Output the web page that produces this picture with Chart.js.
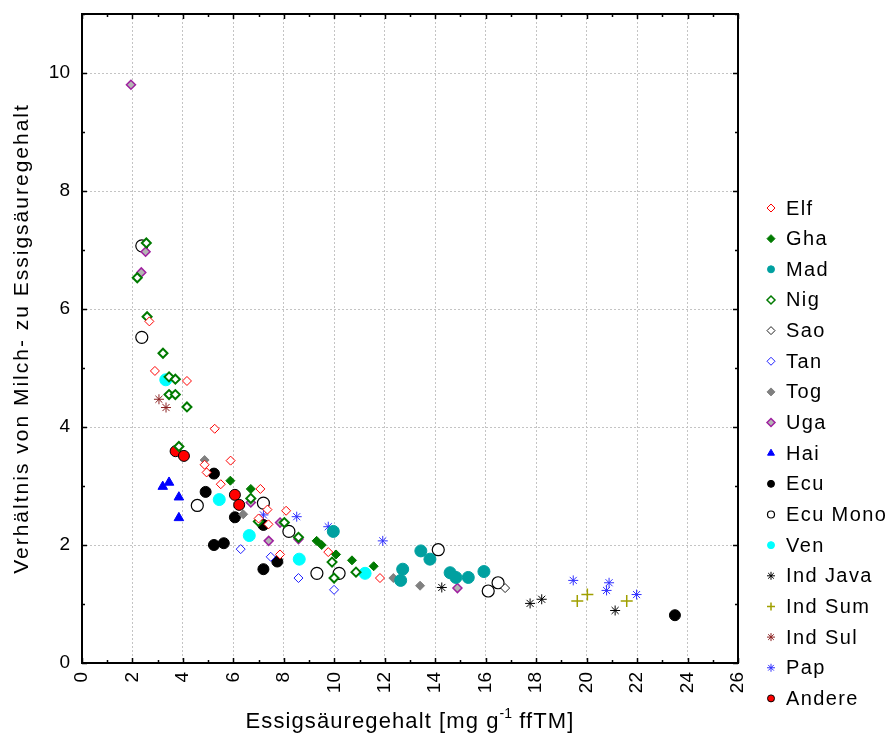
<!DOCTYPE html>
<html>
<head>
<meta charset="utf-8">
<title>Essigsäure</title>
<script src="https://cdn.jsdelivr.net/npm/chart.js@4.4.1/dist/chart.umd.min.js"></script>
<style>
    html, body { margin: 0; padding: 0; background: #fff; }
    canvas { display: block; }
</style>
</head>
<body>
<canvas id="chartCanvas" width="893" height="740"></canvas>
<script>
// =========================
// Daten: [Essigsäuregehalt, Verhältnis Milch/Essig]
// =========================
const elf = [[2.67,5.79],[2.89,4.95],[4.16,4.78],[5.26,3.97],[5.89,3.43],[4.86,3.36],[4.94,3.23],[5.50,3.03],
             [7.07,2.95],[7.35,2.60],[7.00,2.45],[7.39,2.35],[8.09,2.58],[7.85,1.84],[9.76,1.88],[11.81,1.44]];
const gha = [[5.88,3.09],[6.69,2.95],[9.30,2.07],[9.50,2.00],[10.07,1.84],[10.70,1.74],[11.56,1.64]];
const mad = [[9.96,2.23],[12.63,1.40],[12.71,1.59],[13.43,1.90],[13.79,1.76],[14.59,1.53],[14.82,1.45],[15.31,1.45],[15.93,1.55]];
const nig = [[2.55,7.12],[2.19,6.53],[2.58,5.87],[3.21,5.25],[3.45,4.85],[3.70,4.81],[3.45,4.55],[3.70,4.55],[4.16,4.34],
             [3.84,3.67],[6.69,2.79],[6.99,2.40],[8.02,2.38],[8.58,2.13],[9.91,1.71],[9.99,1.44],[10.86,1.54]];
const sao = [[16.77,1.27]];
const tan = [[6.29,1.93],[7.48,1.80],[8.58,1.44],[9.99,1.24]];
const tog = [[4.86,3.44],[6.39,2.52],[12.34,1.44],[13.40,1.31]];
const uga = [[1.94,9.80],[2.52,6.97],[2.35,6.62],[6.69,2.72],[7.40,2.07],[7.85,2.38],[8.58,2.10],[14.88,1.27]];
const hai = [[3.45,3.06],[3.20,2.99],[3.84,2.81],[3.84,2.46]];
const ecu = [[5.23,3.21],[4.90,2.90],[6.06,2.47],[5.23,2.00],[5.62,2.03],[7.19,1.59],[7.74,1.72],[7.19,2.34],[23.50,0.81]];
const ecuMono = [[2.37,7.07],[2.37,5.52],[4.57,2.67],[7.19,2.71],[8.20,2.23],[9.31,1.52],[10.19,1.52],[14.12,1.92],[16.49,1.36],[16.10,1.22]];
const ven = [[3.32,4.80],[5.44,2.77],[6.63,2.16],[8.61,1.76],[11.22,1.52]];
const indJava = [[14.26,1.28],[17.76,1.01],[18.22,1.08],[21.13,0.89]];
const indSum = [[19.63,1.05],[20.03,1.16],[21.59,1.05]];
const indSul = [[3.05,4.47],[3.33,4.33]];
const pap = [[7.19,2.51],[8.51,2.48],[9.76,2.31],[11.92,2.07],[19.47,1.40],[20.89,1.36],[20.79,1.23],[21.98,1.16]];
const andere = [[3.71,3.59],[4.04,3.51],[6.06,2.85],[6.23,2.68]];

// Achsen
const xMin = 0, xMax = 26, xStep = 2;
const yMin = 0, yMax = 11, yStep = 2;
const xTitle = ["Essigsäuregehalt [mg g", "-1", " ffTM]"];
const yTitle = "Verhältnis von Milch- zu Essigsäuregehalt";

const FONT = '"Liberation Sans", Arial, sans-serif';

function pts(arr) {
    return arr.map(p => ({ x: p[0], y: p[1] }));
}

function serie(label, data, style) {
    return Object.assign({ label, data: pts(data), borderWidth: 1, pointRadius: 4.5 }, style);
}

const datasets = [
    serie("Elf", elf, { pointStyle: "rectRot", borderColor: "#ff0000", backgroundColor: "#ffffff" }),
    serie("Gha", gha, { pointStyle: "rectRot", borderColor: "#007a00", backgroundColor: "#007a00" }),
    serie("Mad", mad, { pointStyle: "circle", borderColor: "#00a0a0", backgroundColor: "#00a0a0", pointRadius: 6 }),
    serie("Nig", nig, { pointStyle: "rectRot", borderColor: "#007a00", backgroundColor: "#ffffff", borderWidth: 2 }),
    serie("Sao", sao, { pointStyle: "rectRot", borderColor: "#202020", backgroundColor: "#ffffff" }),
    serie("Tan", tan, { pointStyle: "rectRot", borderColor: "#2020ff", backgroundColor: "#ffffff" }),
    serie("Tog", tog, { pointStyle: "rectRot", borderColor: "#808080", backgroundColor: "#808080" }),
    serie("Uga", uga, { pointStyle: "rectRot", borderColor: "#a020a0", backgroundColor: "#b4b4b4", borderWidth: 1.5 }),
    serie("Hai", hai, { pointStyle: "triangle", borderColor: "#0000ff", backgroundColor: "#0000ff", pointRadius: 5.5 }),
    serie("Ecu", ecu, { pointStyle: "circle", borderColor: "#000000", backgroundColor: "#000000", pointRadius: 5.5 }),
    serie("Ecu Mono", ecuMono, { pointStyle: "circle", borderColor: "#000000", backgroundColor: "#ffffff", pointRadius: 6, borderWidth: 1.2 }),
    serie("Ven", ven, { pointStyle: "circle", borderColor: "#00ffff", backgroundColor: "#00ffff", pointRadius: 6 }),
    serie("Ind Java", indJava, { pointStyle: "star", borderColor: "#000000", backgroundColor: "#000000", pointRadius: 5 }),
    serie("Ind Sum", indSum, { pointStyle: "cross", borderColor: "#a0a000", backgroundColor: "#a0a000", pointRadius: 6, borderWidth: 1.5 }),
    serie("Ind Sul", indSul, { pointStyle: "star", borderColor: "#8b2222", backgroundColor: "#8b2222", pointRadius: 5 }),
    serie("Pap", pap, { pointStyle: "star", borderColor: "#3030ff", backgroundColor: "#3030ff", pointRadius: 5 }),
    serie("Andere", andere, { pointStyle: "circle", borderColor: "#000000", backgroundColor: "#ff0000", pointRadius: 5.5 })
];

// Text mit Sperrung (Canvas letterSpacing)
function spaced(ctx, font, spacing) {
    ctx.font = font;
    if ("letterSpacing" in ctx) ctx.letterSpacing = spacing + "px";
}

// =========================
// Rahmen, Innenticks, Legende, Achsentitel
// =========================
const extras = {
    id: "extras",
    afterDatasetsDraw(chart) {
        const { ctx, chartArea: a, scales: { x, y } } = chart;
        ctx.save();
        ctx.strokeStyle = "#000";
        ctx.lineWidth = 1.5;
        ctx.beginPath();
        for (let v = xMin; v <= xMax; v++) {
            const px = Math.round(x.getPixelForValue(v)) + 0.5;
            const len = v % xStep ? 3 : 5;
            ctx.moveTo(px, a.bottom); ctx.lineTo(px, a.bottom - len);
            ctx.moveTo(px, a.top); ctx.lineTo(px, a.top + len);
        }
        for (let v = yMin; v <= yMax; v++) {
            const py = Math.round(y.getPixelForValue(v)) + 0.5;
            const len = v % yStep ? 3 : 5;
            ctx.moveTo(a.left, py); ctx.lineTo(a.left + len, py);
            ctx.moveTo(a.right, py); ctx.lineTo(a.right - len, py);
        }
        ctx.stroke();
        ctx.lineWidth = 2;
        ctx.strokeRect(a.left, a.top, a.right - a.left, a.bottom - a.top);
        ctx.restore();
    },
    afterDraw(chart) {
        const { ctx, chartArea: a } = chart;
        ctx.save();

        // Legende
        let ly = 208;
        ctx.textBaseline = "middle";
        chart.data.datasets.forEach(ds => {
            ctx.fillStyle = ds.backgroundColor;
            ctx.strokeStyle = ds.borderColor;
            ctx.lineWidth = Math.min(ds.borderWidth, 1.5);
            if ("letterSpacing" in ctx) ctx.letterSpacing = "0px";
            Chart.helpers.drawPoint(ctx, {
                pointStyle: ds.pointStyle,
                radius: ds.pointStyle === "circle" ? 3.5 : 4,
                borderWidth: 1,
                rotation: 0
            }, 771, ly);
            ctx.fillStyle = "#000";
            spaced(ctx, "20px " + FONT, 1.4);
            ctx.fillText(ds.label, 786, ly + 1);
            ly += 30.65;
        });

        // x-Achsentitel mit Hochzahl
        const base = "22px " + FONT, sup = "14px " + FONT;
        spaced(ctx, base, 1.1);
        const w1 = ctx.measureText(xTitle[0]).width;
        const w3 = ctx.measureText(xTitle[2]).width;
        spaced(ctx, sup, 0);
        const w2 = ctx.measureText(xTitle[1]).width;
        let tx = (a.left + a.right) / 2 - (w1 + w2 + w3) / 2;
        const ty = 728;
        ctx.textBaseline = "alphabetic";
        ctx.textAlign = "left";
        ctx.fillStyle = "#000";
        spaced(ctx, base, 1.1);
        ctx.fillText(xTitle[0], tx, ty);
        tx += w1;
        spaced(ctx, sup, 0);
        ctx.fillText(xTitle[1], tx, ty - 10);
        tx += w2;
        spaced(ctx, base, 1.1);
        ctx.fillText(xTitle[2], tx, ty);

        // y-Achsentitel, gedreht
        spaced(ctx, "21px " + FONT, 2);
        const wy = ctx.measureText(yTitle).width;
        ctx.translate(28, (a.top + a.bottom) / 2);
        ctx.rotate(-Math.PI / 2);
        ctx.fillText(yTitle, -wy / 2, 0);
        ctx.restore();
    }
};

const ctx = document.getElementById("chartCanvas").getContext("2d");

new Chart(ctx, {
    type: "scatter",
    data: { datasets },
    options: {
        responsive: false,
        animation: false,
        layout: { padding: { left: 0, top: 14, right: 155, bottom: 0 } },
        plugins: {
            legend: { display: false },
            tooltip: { enabled: false }
        },
        scales: {
            x: {
                type: "linear",
                min: xMin,
                max: xMax,
                afterFit: s => { s.height = 77; s.paddingLeft = 0; s.paddingRight = 0; },
                grid: { color: "#c4c4c4", lineWidth: 1, drawTicks: false },
                border: { display: false, dash: [2, 2] },
                ticks: {
                    stepSize: xStep,
                    minRotation: 90,
                    maxRotation: 90,
                    padding: 9,
                    color: "#000",
                    font: { size: 19, family: FONT }
                }
            },
            y: {
                type: "linear",
                min: yMin,
                max: yMax,
                afterFit: s => { s.width = 82; s.paddingTop = 0; s.paddingBottom = 0; },
                grid: { color: "#c4c4c4", lineWidth: 1, drawTicks: false },
                border: { display: false, dash: [2, 2] },
                ticks: {
                    stepSize: yStep,
                    includeBounds: false,
                    padding: 12,
                    color: "#000",
                    font: { size: 19, family: FONT }
                }
            }
        }
    },
    plugins: [extras]
});
</script>
</body>
</html>
